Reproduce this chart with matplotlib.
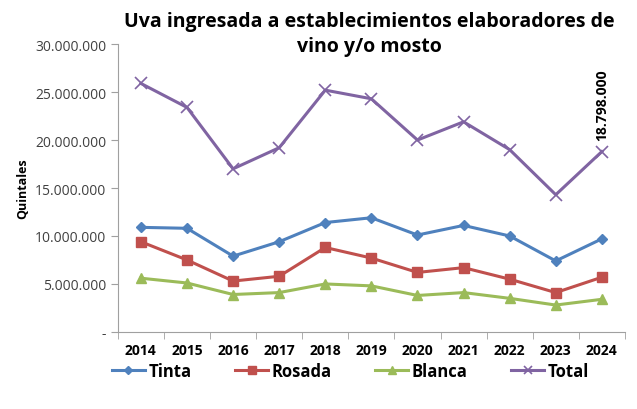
import numpy as np
import matplotlib.pyplot as plt
from matplotlib.ticker import FuncFormatter, FixedLocator

years = ["2014", "2015", "2016", "2017", "2018", "2019", "2020", "2021", "2022", "2023", "2024"]
tinta = [10.9, 10.8, 7.9, 9.4, 11.4, 11.9, 10.1, 11.1, 10.0, 7.4, 9.7]
rosada = [9.4, 7.5, 5.3, 5.8, 8.8, 7.7, 6.2, 6.7, 5.5, 4.1, 5.7]
blanca = [5.6, 5.1, 3.9, 4.1, 5.0, 4.8, 3.8, 4.1, 3.5, 2.8, 3.4]
total = [25.9, 23.4, 17.0, 19.2, 25.2, 24.3, 20.0, 21.9, 19.0, 14.3, 18.798]

def fmt(v, pos):
    if v == 0:
        return "-"
    return f"{int(round(v)):,}".replace(",", ".")

plt.rcParams["font.family"] = ["Open Sans", "DejaVu Sans"]

fig = plt.figure(figsize=(6.37, 4.10), dpi=100)
ax = fig.add_axes([0.185, 0.188, 0.796, 0.702])

x = np.arange(len(years))
scale = 1e6
ax.plot(x, np.array(tinta) * scale, color="#4F81BD", lw=2.2, marker="D", ms=5.5, label="Tinta")
ax.plot(x, np.array(rosada) * scale, color="#C0504D", lw=2.2, marker="s", ms=6.5, label="Rosada")
ax.plot(x, np.array(blanca) * scale, color="#9BBB59", lw=2.2, marker="^", ms=7, label="Blanca")
ax.plot(x, np.array(total) * scale, color="#8064A2", lw=2.2, marker="x", ms=8, mew=1.2, label="Total")

ax.annotate(fmt(total[-1] * scale, None), (x[-1], total[-1] * scale), xytext=(0, 8),
            textcoords="offset points", rotation=90, ha="center", va="bottom",
            fontsize=10, fontweight="bold")

ax.set_xlim(-0.5, len(years) - 0.5)
ax.set_ylim(0, 30e6)
ax.set_yticks(np.arange(0, 30e6 + 1, 5e6))
ax.yaxis.set_major_formatter(FuncFormatter(fmt))
ax.set_xticks(x)
ax.set_xticklabels(years, fontweight="bold", fontsize=10)
ax.xaxis.set_minor_locator(FixedLocator(np.arange(-0.5, len(years), 1)))
ax.tick_params(axis="x", which="major", length=0, pad=8)
ax.tick_params(axis="x", which="minor", length=5, color="#A0A0A0")
ax.tick_params(axis="y", length=5, color="#A0A0A0", labelsize=10, labelcolor="#404040")

for s in ["top", "right"]:
    ax.spines[s].set_visible(False)
for s in ["left", "bottom"]:
    ax.spines[s].set_color("#A0A0A0")

ax.set_ylabel("Quintales", fontweight="bold", fontsize=9)
fig.text(0.58, 0.915, "Uva ingresada a establecimientos elaboradores de\nvino y/o mosto",
         ha="center", va="center", fontweight="bold", fontsize=14, linespacing=1.35)

fig.legend(loc="center", bbox_to_anchor=(0.55, 0.093), ncol=4, frameon=False,
           prop={"weight": "bold", "size": 12}, columnspacing=2.6, handlelength=2.0,
           handletextpad=0.2, markerscale=0.8)

fig.savefig("out.png", dpi=100)
